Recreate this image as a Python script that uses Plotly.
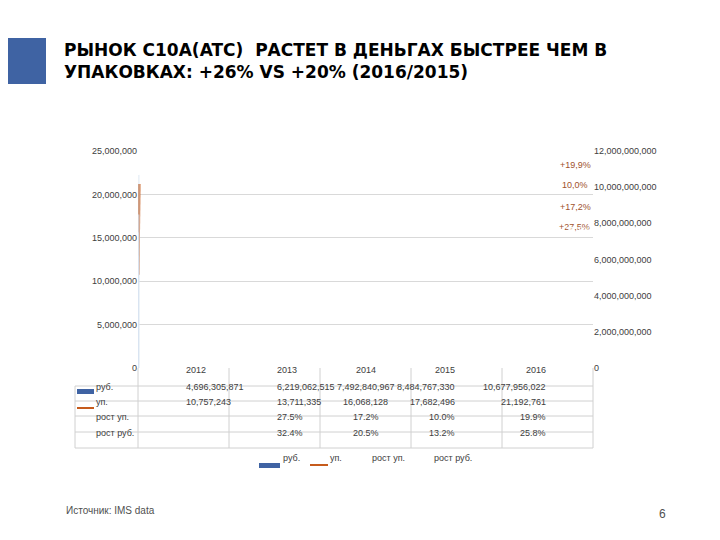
import plotly.graph_objects as go

years = ["2012", "2013", "2014", "2015", "2016"]
rub = [4696305871, 6219062515, 7492840967, 8484767330, 10677956022]
packs = [10757243, 13711335, 16068128, 17682496, 21192761]
rub_txt = ["4,696,305,871", "6,219,062,515", "7,492,840,967", "8,484,767,330", "10,677,956,022"]
packs_txt = ["10,757,243", "13,711,335", "16,068,128", "17,682,496", "21,192,761"]
growth_packs = ["", "27.5%", "17.2%", "10.0%", "19.9%"]
growth_rub = ["", "32.4%", "20.5%", "13.2%", "25.8%"]
line_labels = ["", "+27,5%", "+17,2%", "10,0%", "+19,9%"]
bar_labels = ["", "+32,4", "+20,5%", "+13,2%", "+25,8%"]

BLUE = "#3f63a3"
ORANGE = "#c65b1c"
L, R, T, B = 130, 585, 143, 360
W, H = R - L, B - T
px = lambda x: (x - L) / W
py = lambda y: (B - y) / H

fig = go.Figure()
fig.add_trace(go.Bar(x=years, y=rub, marker_color=BLUE, width=0.42, yaxis="y2", name="руб."))
fig.add_trace(go.Scatter(x=years, y=packs, mode="lines", line=dict(color=ORANGE, width=3), name="уп."))

F = "Liberation Sans"
ann = []
shapes = []
ytop_line = [None, 212, 192, 170, 150]
ytop_bar = [None, 263, 252, 236, 222]
for i in range(1, 5):
    ann.append(dict(x=years[i], xref="x", y=py(ytop_line[i]), yref="paper", text=line_labels[i],
                    showarrow=False, font=dict(size=9, color="#a0522d", family=F)))
    ann.append(dict(x=years[i], xref="x", y=py(ytop_bar[i]), yref="paper", text=bar_labels[i],
                    showarrow=False, font=dict(size=11 if i == 1 else 9, color="white", family=F)))

# table
cols = [130, 221, 312, 403, 494, 585]
rows = [360, 378, 393, 408, 424, 440]
gc = "#d0d0d0"
for x in cols:
    shapes.append(dict(type="line", xref="paper", yref="paper", x0=px(x), x1=px(x), y0=py(360), y1=py(440), line=dict(color=gc, width=1)))
shapes.append(dict(type="line", xref="paper", yref="paper", x0=px(67), x1=px(67), y0=py(378), y1=py(440), line=dict(color=gc, width=1)))
for y in rows[1:]:
    shapes.append(dict(type="line", xref="paper", yref="paper", x0=px(67), x1=px(585), y0=py(y), y1=py(y), line=dict(color=gc, width=1)))
rowdata = [years, rub_txt, packs_txt, growth_packs, growth_rub]
rownames = ["", "руб.", "уп.", "рост уп.", "рост руб."]
for r in range(5):
    yc = (rows[r] + rows[r + 1]) / 2
    for c in range(5):
        ann.append(dict(x=px((cols[c] + cols[c + 1]) / 2), xref="paper", y=py(yc), yref="paper",
                        text=rowdata[r][c], showarrow=False, font=dict(size=9, color="#404040", family=F)))
    if rownames[r]:
        ann.append(dict(x=px(86), xref="paper", y=py(yc), yref="paper", xanchor="left",
                        text=rownames[r], showarrow=False, font=dict(size=9, color="#404040", family=F)))
shapes.append(dict(type="rect", xref="paper", yref="paper", x0=px(69), x1=px(86), y0=py(381), y1=py(386), fillcolor=BLUE, line_width=0))
shapes.append(dict(type="line", xref="paper", yref="paper", x0=px(69), x1=px(86), y0=py(400), y1=py(400), line=dict(color=ORANGE, width=2)))

# legend
shapes.append(dict(type="rect", xref="paper", yref="paper", x0=px(251), x1=px(272), y0=py(455), y1=py(460), fillcolor=BLUE, line_width=0))
shapes.append(dict(type="line", xref="paper", yref="paper", x0=px(302), x1=px(320), y0=py(457), y1=py(457), line=dict(color=ORANGE, width=2)))
for xx, t in [(273, "руб."), (320, "уп."), (362, "рост уп."), (424, "рост руб.")]:
    ann.append(dict(x=px(xx), xref="paper", y=py(457), yref="paper", xanchor="left", text=t,
                    showarrow=False, font=dict(size=9, color="#404040", family=F)))

# slide elements
shapes.append(dict(type="rect", xref="paper", yref="paper", x0=px(0), x1=px(38), y0=py(30), y1=py(76), fillcolor=BLUE, line_width=0))
ann.append(dict(x=px(54), xref="paper", y=py(30), yref="paper", xanchor="left", yanchor="top", align="left",
                text="<b>РЫНОК C10A(ATC)  РАСТЕТ В ДЕНЬГАХ БЫСТРЕЕ ЧЕМ В<br>УПАКОВКАХ: +26% VS +20% (2016/2015)</b>",
                showarrow=False, font=dict(size=17, color="black", family="DejaVu Sans")))
ann.append(dict(x=px(56), xref="paper", y=py(510), yref="paper", xanchor="left", text="Источник: IMS data",
                showarrow=False, font=dict(size=10, color="#505050", family=F)))
ann.append(dict(x=px(660), xref="paper", y=py(515), yref="paper", text="6",
                showarrow=False, font=dict(size=12, color="#505050", family=F)))

fig.update_layout(
    width=720, height=540, margin=dict(l=L, r=720 - R, t=T, b=540 - B),
    paper_bgcolor="white", plot_bgcolor="white", showlegend=False,
    font=dict(family=F, size=9, color="#404040"),
    xaxis=dict(type="category", showticklabels=False, showline=False, showgrid=False),
    yaxis=dict(range=[0, 25000000], dtick=5000000, tickformat=",d", gridcolor="#d9d9d9",
               zeroline=False, ticks="", tickfont=dict(size=9, color="#404040")),
    yaxis2=dict(range=[0, 12000000000], dtick=2000000000, tickformat=",d", overlaying="y", side="right",
                showgrid=False, zeroline=False, tickfont=dict(size=9, color="#404040")),
    annotations=ann, shapes=shapes,
)
fig.write_html("out.html")
